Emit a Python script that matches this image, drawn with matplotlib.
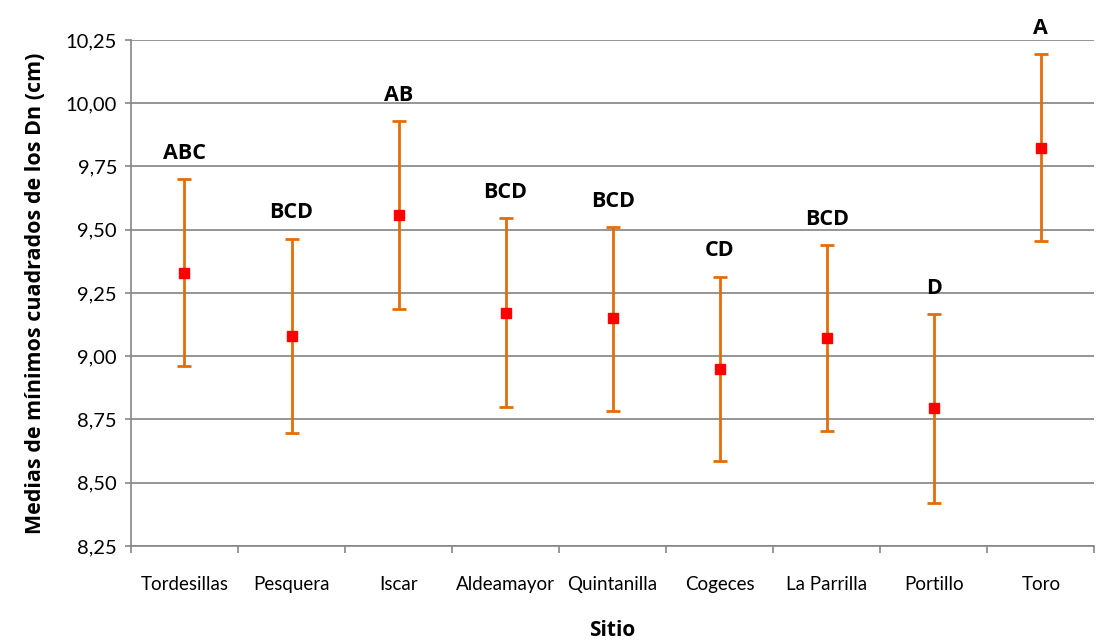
import matplotlib
matplotlib.use("Agg")
import matplotlib.pyplot as plt
from matplotlib.ticker import FixedLocator, FuncFormatter

sites = ["Tordesillas", "Pesquera", "Iscar", "Aldeamayor", "Quintanilla",
         "Cogeces", "La Parrilla", "Portillo", "Toro"]
means = [9.33, 9.08, 9.56, 9.17, 9.15, 8.95, 9.07, 8.795, 9.825]
upper = [9.70, 9.465, 9.93, 9.545, 9.51, 9.315, 9.44, 9.165, 10.195]
lower = [8.96, 8.695, 9.185, 8.80, 8.785, 8.585, 8.705, 8.42, 9.455]
letters = ["ABC", "BCD", "AB", "BCD", "BCD", "CD", "BCD", "D", "A"]
yticks = [8.25, 8.50, 8.75, 9.00, 9.25, 9.50, 9.75, 10.00, 10.25]

plt.rcParams['font.family'] = ['Lato', 'DejaVu Sans']
BOLD = ['Open Sans', 'DejaVu Sans']

fig = plt.figure(figsize=(10.96, 6.4), dpi=100)
ax = fig.add_axes([0.1195, 0.147, 0.879, 0.7905])

x = list(range(len(sites)))
err_lo = [m - l for m, l in zip(means, lower)]
err_hi = [u - m for m, u in zip(means, upper)]
ax.errorbar(x, means, yerr=[err_lo, err_hi], fmt='s', color='#E46C0A',
            ecolor='#E46C0A', elinewidth=2.0, capsize=5, capthick=2.0,
            markersize=7, markerfacecolor='#FF0000', markeredgecolor='#FF0000',
            zorder=3)

for xi, u, t in zip(x, upper, letters):
    ax.annotate(t, (xi, u), xytext=(0, 11), textcoords='offset points',
                ha='center', va='bottom', fontsize=15.5, fontweight='bold',
                family=BOLD)

ax.set_xlim(-0.5, len(sites) - 0.5)
ax.set_ylim(8.25, 10.25)
ax.yaxis.set_major_locator(FixedLocator(yticks))
ax.yaxis.set_major_formatter(FuncFormatter(lambda v, p: f"{v:.2f}".replace('.', ',')))
ax.set_xticks(x)
ax.set_xticklabels(sites, fontsize=13.5)
ax.set_xticks([i - 0.5 for i in range(len(sites) + 1)], minor=True)
ax.tick_params(axis='x', which='major', length=0, pad=22)
ax.tick_params(axis='x', which='minor', length=5, color='#868686', width=1.2)
ax.tick_params(axis='y', labelsize=14.5, length=4, color='#868686', width=1.2,
               pad=6)

ax.grid(axis='y', color='#8c8c8c', linewidth=1.3)
ax.set_axisbelow(True)
for s in ['top', 'right']:
    ax.spines[s].set_visible(False)
for s in ['left', 'bottom']:
    ax.spines[s].set_color('#868686')
    ax.spines[s].set_linewidth(1.2)

ax.set_ylabel("Medias de mínimos cuadrados de los Dn (cm)", fontsize=15.5,
              fontweight='bold', family=BOLD, labelpad=14)
ax.set_xlabel("Sitio", fontsize=15, fontweight='bold', family=BOLD, labelpad=19)

fig.savefig("out.png", dpi=100)
